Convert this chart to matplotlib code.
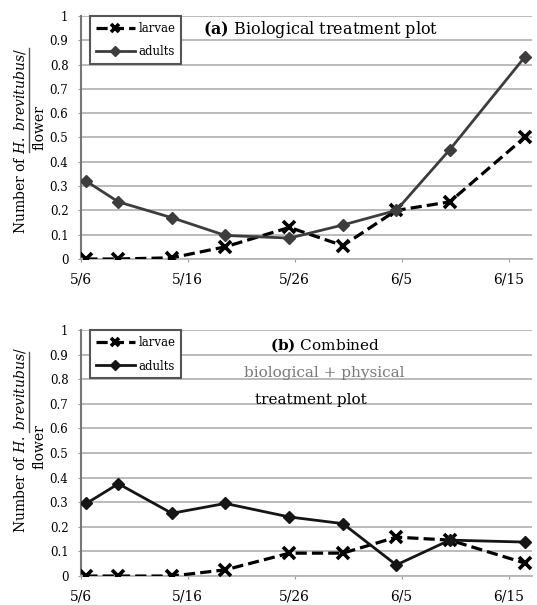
import matplotlib
matplotlib.use("Agg")
import matplotlib.pyplot as plt
from matplotlib.lines import Line2D

plt.rcParams['font.family'] = ['DejaVu Serif']
plt.rcParams['mathtext.fontset'] = 'dejavuserif'

# sampling dates and values
fechas = ["5/6", "5/9", "5/14", "5/19", "5/25", "5/30", "6/4", "6/9", "6/16"]
larvas_a = [0, 0, 0.005, 0.05, 0.13, 0.055, 0.20, 0.235, 0.50]
adultos_a = [0.32, 0.235, 0.17, 0.097, 0.086, 0.14, 0.20, 0.45, 0.83]
larvas_b = [0, 0, 0, 0.025, 0.093, 0.093, 0.158, 0.146, 0.053]
adultos_b = [0.295, 0.375, 0.255, 0.295, 0.24, 0.213, 0.045, 0.146, 0.138]
etiquetas_x = ["5/6", "5/16", "5/26", "6/5", "6/15"]


def dia(fecha):
    mes, d = fecha.split("/")
    d = int(d)
    return d - 6 if mes == "5" else d + 25


def graficar(ax, larvas, adultos, color_adultos):
    x = [dia(f) + 0.5 for f in fechas]
    ax.set_xlim(0, 42.2)
    ax.set_ylim(0, 1)
    ax.set_yticks([i / 10 for i in range(11)])
    ax.set_yticklabels(["0"] + ["0.%d" % i for i in range(1, 10)] + ["1"], fontsize=8.5)
    ax.set_xticks([dia(e) for e in etiquetas_x])
    ax.set_xticklabels(etiquetas_x, fontsize=10)
    ax.grid(axis='y', color='#b5b5b5', lw=1.3)
    ax.set_axisbelow(True)
    for s in ['top', 'right']:
        ax.spines[s].set_visible(False)
    ax.spines['left'].set_color('#777777')
    ax.spines['left'].set_linewidth(1.5)
    ax.spines['bottom'].set_color('#b5b5b5')
    ax.spines['bottom'].set_linewidth(1.3)
    ax.tick_params(axis='both', length=2, color='#999999')
    ax.tick_params(axis='x', pad=8)
    ax.tick_params(axis='y', pad=7)
    ax.plot(x, larvas, color='black', ls=(0, (3.5, 1.6)), lw=2.3,
            marker='x', ms=8, mew=2.6, label='larvae', zorder=3)
    ax.plot(x, adultos, color=color_adultos, lw=2, marker='D', ms=6,
            label='adults', zorder=4)
    leg = ax.legend(loc='upper left', bbox_to_anchor=(0.02, 1.0), fontsize=8.5,
                    fancybox=False, framealpha=1, edgecolor='#555555',
                    handlelength=3.3, borderpad=0.5, labelspacing=0.9,
                    handletextpad=0.3, borderaxespad=0, markerscale=0.8)
    leg.get_frame().set_linewidth(1.5)


fig = plt.figure(figsize=(5.37, 6.05), dpi=100)
ax1 = fig.add_axes([0.1508, 0.5719, 0.84, 0.4017])
ax2 = fig.add_axes([0.1508, 0.0479, 0.84, 0.4066])

graficar(ax1, larvas_a, adultos_a, '#3d3d3d')
graficar(ax2, larvas_b, adultos_b, '#151515')

ax1.text(0.27, 0.944, r"$\bf{(a)}$ Biological treatment plot", transform=ax1.transAxes,
         fontsize=11.5, va='center', ha='left')
ax2.text(0.54, 0.94, r"$\bf{(b)}$ Combined", transform=ax2.transAxes,
         fontsize=11, va='center', ha='center')
ax2.text(0.54, 0.826, "biological + physical", transform=ax2.transAxes,
         fontsize=11, va='center', ha='center', color='#7a7a7a')
ax2.text(0.51, 0.715, "treatment plot", transform=ax2.transAxes,
         fontsize=11, va='center', ha='center')

# y label as a fraction: "Number of H. brevitubus/" over "flower"
W, H = 537, 605
for yc, yflor, ylin in [(141, 128, (48, 152)), (440, 447, (352, 432))]:
    fig.text(20 / W, 1 - yc / H, r"Number of $\it{H.\ brevitubus}$/", rotation=90,
             fontsize=10, ha='center', va='center')
    fig.text(39 / W, 1 - yflor / H, "flower", rotation=90,
             fontsize=10, ha='center', va='center')
    fig.add_artist(Line2D([29 / W, 29 / W], [1 - ylin[0] / H, 1 - ylin[1] / H],
                          color='#555555', lw=1))

fig.savefig("out.png", dpi=100)
